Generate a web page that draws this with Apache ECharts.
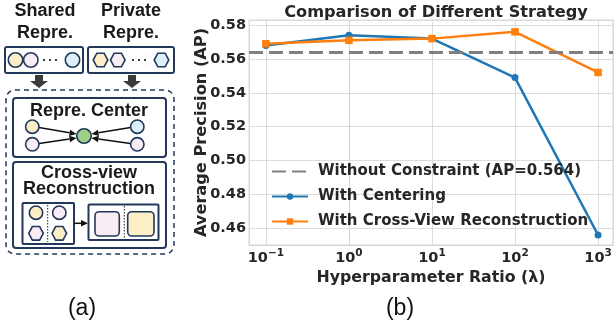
<!DOCTYPE html>
<html>
<head>
<meta charset="utf-8">
<script src="https://cdn.jsdelivr.net/npm/echarts@6/dist/echarts.min.js"></script>
<style>
  html, body { margin: 0; padding: 0; background: #fff; }
  #chart { width: 616px; height: 332px; }
</style>
</head>
<body>
<div id="chart"></div>
<script>
// lambda as powers of ten (10^-1 ... 10^3)
const lambdaExp = [-1, 0, 1, 2, 3]
const centering = [0.568, 0.574, 0.572, 0.549, 0.456]
const crossView = [0.569, 0.571, 0.572, 0.576, 0.552]
const baselineAP = 0.564
const seriesNames = ['Without Constraint (AP=0.564)', 'With Centering', 'With Cross-View Reconstruction']

const navy = '#22385b'
const yellow = '#fcefc8'
const pink = '#f8edf4'
const blue = '#dfeffa'
const green = '#9dcf88'
const ink = '#262626'

function toPairs(xs, ys) {
  return xs.map((x, i) => [x, ys[i]])
}

// ---- left diagram (a), plain graphic elements ----
function txt(x, y, text, size, weight) {
  return {
    type: 'text', silent: true,
    style: {
      x, y, text, fill: weight === 'normal' ? '#111' : '#1a1a1a',
      fontFamily: 'Liberation Sans', fontSize: size, fontWeight: weight || 'bold',
      align: 'center', verticalAlign: 'middle', lineHeight: 16
    }
  }
}
function box(x1, y1, x2, y2, r, lw, dash) {
  return {
    type: 'rect', silent: true,
    shape: { x: x1, y: y1, width: x2 - x1, height: y2 - y1, r: r },
    style: { fill: dash ? 'none' : '#fff', stroke: navy, lineWidth: lw, lineDash: dash || null }
  }
}
function dot(cx, cy, r, fill) {
  return { type: 'circle', silent: true, shape: { cx, cy, r }, style: { fill, stroke: navy, lineWidth: 1.6 } }
}
function hex(cx, cy, fill) {
  const w = 7.3, h = 6.8
  return {
    type: 'polygon', silent: true,
    shape: { points: [[cx - w, cy], [cx - w / 2, cy - h], [cx + w / 2, cy - h], [cx + w, cy], [cx + w / 2, cy + h], [cx - w / 2, cy + h]] },
    style: { fill, stroke: navy, lineWidth: 1.6 }
  }
}
function vdots(x, y1, y2) {
  return { type: 'line', silent: true, shape: { x1: x, y1, x2: x, y2 }, style: { stroke: '#222', lineWidth: 1, lineDash: [1.5, 1.5] } }
}
function ellipsis(x, y) {
  return [0, 6, 12].map(d => ({ type: 'circle', silent: true, shape: { cx: x + d, cy: y, r: 1.1 }, style: { fill: '#111' } }))
}
function arrow(x1, y1, x2, y2) {
  const a = Math.atan2(y2 - y1, x2 - x1)
  const L = 7, W = 3.2
  const bx = x2 - L * Math.cos(a), by = y2 - L * Math.sin(a)
  return [
    { type: 'line', silent: true, shape: { x1, y1, x2: bx, y2: by }, style: { stroke: '#111', lineWidth: 1.5 } },
    {
      type: 'polygon', silent: true,
      shape: { points: [[x2, y2], [bx - W * Math.sin(a), by + W * Math.cos(a)], [bx + W * Math.sin(a), by - W * Math.cos(a)]] },
      style: { fill: '#111' }
    }
  ]
}
function downArrow(cx) {
  return {
    type: 'polygon', silent: true,
    shape: { points: [[cx - 4, 75], [cx + 4, 75], [cx + 4, 81], [cx + 9, 81], [cx, 88], [cx - 9, 81], [cx - 4, 81]] },
    style: { fill: '#3b3b3b' }
  }
}

const diagram = [
  txt(45, 11, 'Shared', 18), txt(45, 33, 'Repre.', 18),
  txt(131, 11, 'Private', 18), txt(131, 33, 'Repre.', 18),
  box(5, 47, 83, 73, 2, 2),
  dot(15.5, 60, 7.2, yellow), dot(30.8, 60, 7.2, pink), ...ellipsis(44, 60), dot(72.5, 60, 7.2, blue),
  box(88, 47, 174, 73, 2, 2),
  hex(100.5, 60, yellow), hex(117.8, 60, pink), ...ellipsis(133, 60), hex(161.5, 60, blue),
  downArrow(39), downArrow(132),
  box(6, 90, 174, 254, 9, 1.5, [5, 4]),
  box(13, 98, 166, 157, 3, 2),
  txt(89, 111, 'Repre. Center', 18),
  ...arrow(39, 127.5, 76.5, 134), ...arrow(39, 143.5, 76.5, 138),
  ...arrow(130.5, 127.5, 91.5, 134), ...arrow(130.5, 143.5, 91.5, 138),
  dot(32.3, 126.7, 6.7, yellow), dot(32.3, 144.3, 6.7, pink),
  dot(137.3, 126.7, 6.7, blue), dot(137.3, 144.3, 6.7, pink),
  dot(84, 136, 7.3, green),
  box(13, 162, 166, 248, 3, 2),
  txt(89, 181, 'Cross-view\nReconstruction', 18),
  box(22.5, 203, 74, 244, 1, 2),
  vdots(47.7, 205, 242),
  dot(36, 212.7, 6.7, yellow), dot(59.3, 212.7, 6.7, pink),
  hex(36, 233.3, pink), hex(59.3, 233.3, yellow),
  ...arrow(74, 223.3, 88, 223.3),
  box(88.5, 204.5, 158.5, 240, 1, 2),
  vdots(124.3, 206, 238),
  {
    type: 'rect', silent: true, shape: { x: 95, y: 211.7, width: 24.3, height: 24.3, r: 4 },
    style: { fill: pink, stroke: navy, lineWidth: 1.6 }
  },
  {
    type: 'rect', silent: true, shape: { x: 127.7, y: 211.7, width: 26.3, height: 24.3, r: 4 },
    style: { fill: yellow, stroke: navy, lineWidth: 1.6 }
  },
  txt(82, 309, '(a)', 23, 'normal'),
  txt(400, 309, '(b)', 23, 'normal')
]

const axisFont = { fontFamily: 'DejaVu Sans', fontWeight: 'bold', color: ink }

const option = {
  animation: false,
  title: {
    text: 'Comparison of Different Strategy',
    left: 431, top: 0, textAlign: 'center',
    textStyle: { ...axisFont, fontSize: 16.2 }
  },
  legend: {
    data: [
      { name: seriesNames[0], itemStyle: { opacity: 0 } },
      seriesNames[1],
      seriesNames[2]
    ],
    orient: 'vertical',
    left: 266, top: 159,
    itemWidth: 36, itemHeight: 8, itemGap: 10,
    textStyle: { ...axisFont, fontSize: 15, padding: [0, 0, 0, 5] }
  },
  grid: { left: 249, right: 1, top: 20, bottom: 87, show: true, borderColor: '#d4d4d4', borderWidth: 1 },
  xAxis: {
    type: 'value',
    min: -1.203, max: 3.18,
    name: 'Hyperparameter Ratio (λ)',
    nameLocation: 'middle', nameGap: 25, nameMoveOverlap: false,
    nameTextStyle: { ...axisFont, fontSize: 15.8 },
    axisLine: { lineStyle: { color: '#d4d4d4' } },
    axisTick: { show: false },
    splitLine: { lineStyle: { color: '#dcdcdc' } },
    axisLabel: {
      margin: 3,
      formatter: v => Number.isInteger(v) ? '{b|10}{s|' + (v < 0 ? '−' + (-v) : v) + '}' : '',
      rich: {
        b: { ...axisFont, fontSize: 14.5 },
        s: { ...axisFont, fontSize: 10.5, padding: [0, 0, 9, 0] }
      }
    }
  },
  yAxis: {
    type: 'value',
    min: 0.4501, max: 0.583, splitNumber: 7,
    name: 'Average Precision (AP)',
    nameLocation: 'middle', nameGap: 39, nameMoveOverlap: false,
    nameTextStyle: { ...axisFont, fontSize: 16.2 },
    axisLine: { show: true, lineStyle: { color: '#d4d4d4' } },
    axisTick: { show: false },
    splitLine: { lineStyle: { color: '#dcdcdc' } },
    axisLabel: {
      ...axisFont, fontSize: 14.5, margin: 3,
      formatter: v => Math.abs(v * 50 - Math.round(v * 50)) < 1e-6 ? v.toFixed(2) : ''
    }
  },
  series: [
    {
      name: seriesNames[0],
      type: 'line',
      data: [],
      symbol: 'none',
      color: '#808080',
      itemStyle: { opacity: 0 },
      lineStyle: { color: '#808080', width: 3, type: [14, 6] },
      markLine: {
        silent: true, symbol: 'none', precision: 3,
        label: { show: false },
        lineStyle: { color: '#808080', width: 3, type: [14, 6] },
        data: [{ yAxis: baselineAP }]
      }
    },
    {
      name: seriesNames[1],
      type: 'line',
      data: toPairs(lambdaExp, centering),
      color: '#1f77b4',
      symbol: 'circle', symbolSize: 7,
      lineStyle: { width: 2.5 }
    },
    {
      name: seriesNames[2],
      type: 'line',
      data: toPairs(lambdaExp, crossView),
      color: '#ff7f0e',
      symbol: 'rect', symbolSize: 7.5,
      lineStyle: { width: 2.5 }
    }
  ],
  graphic: diagram
}

const chart = echarts.init(document.getElementById('chart'))
chart.setOption(option)
</script>
</body>
</html>
